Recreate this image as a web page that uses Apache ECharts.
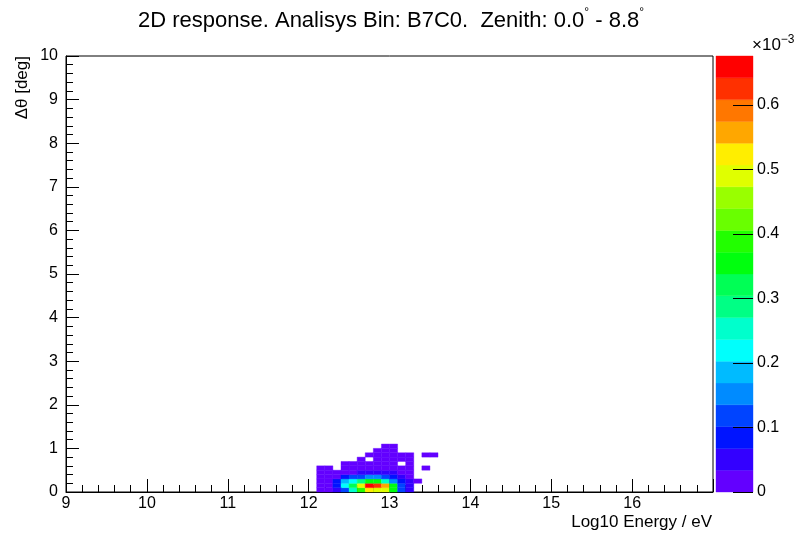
<!DOCTYPE html>
<html>
<head>
<meta charset="utf-8">
<script src="https://cdn.jsdelivr.net/npm/echarts@6/dist/echarts.min.js"></script>
<style>
html,body{margin:0;padding:0;background:#fff;}
#chart{width:798px;height:537px;}
</style>
</head>
<body>
<div id="chart"></div>
<script>
// Bin lower edges (Log10 Energy / eV, Δθ [deg]); bin size 0.1 x 0.1
const xEdges = [12.1, 12.2, 12.3, 12.4, 12.5, 12.6, 12.7, 12.8, 12.9, 13.0, 13.1, 13.2, 13.3, 13.4, 13.5];
const yEdges = [0.0, 0.1, 0.2, 0.3, 0.4, 0.5, 0.6, 0.7, 0.8, 0.9, 1.0];
const binW = 0.1;
const binH = 0.1;

// Cell contents (units of 1e-3), one array per Δθ row, columns follow xEdges
const row00 = [0.02, 0.02, 0.05, 0.12, 0.25, 0.39, 0.52, 0.49, 0.48, 0.36, 0.12, 0.05, 0, 0, 0];
const row01 = [0.02, 0.03, 0.09, 0.22, 0.32, 0.49, 0.67, 0.63, 0.56, 0.35, 0.12, 0.05, 0, 0, 0];
const row02 = [0.02, 0.02, 0.08, 0.19, 0.22, 0.29, 0.36, 0.35, 0.25, 0.15, 0.08, 0.05, 0.01, 0, 0];
const row03 = [0.01, 0.02, 0.03, 0.09, 0.12, 0.13, 0.15, 0.16, 0.12, 0.08, 0.05, 0.02, 0, 0, 0];
const row04 = [0.01, 0.02, 0.01, 0.02, 0.03, 0.04, 0.05, 0.06, 0.05, 0.04, 0.02, 0.01, 0, 0, 0];
const row05 = [0.01, 0.01, 0, 0.01, 0.02, 0.02, 0.02, 0.03, 0.02, 0.02, 0.01, 0.01, 0, 0.005, 0];
const row06 = [0, 0, 0, 0.01, 0.01, 0.01, 0.02, 0.02, 0.02, 0.01, 0, 0.005, 0, 0, 0];
const row07 = [0, 0, 0, 0, 0, 0.005, 0, 0.01, 0.01, 0.01, 0.005, 0.005, 0, 0, 0];
const row08 = [0, 0, 0, 0, 0, 0, 0.005, 0.01, 0.01, 0.01, 0.005, 0.005, 0, 0.005, 0.005];
const row09 = [0, 0, 0, 0, 0, 0, 0, 0.005, 0.01, 0.005, 0, 0, 0, 0, 0];
const row10 = [0, 0, 0, 0, 0, 0, 0, 0, 0.005, 0.005, 0, 0, 0, 0, 0];
const rows = [row00, row01, row02, row03, row04, row05, row06, row07, row08, row09, row10];

// Axis ticks
const xTickLabels = [9, 10, 11, 12, 13, 14, 15, 16];
const yTickLabels = [0, 1, 2, 3, 4, 5, 6, 7, 8, 9, 10];
const zTickLabels = [0, 0.1, 0.2, 0.3, 0.4, 0.5, 0.6];
const zMax = 0.676;

// ROOT "pretty" palette, 20 contour levels
const palette = ['#6300FF', '#3300FF', '#0014FF', '#0044FF', '#008BFF', '#00BBFF', '#00FFFC', '#00FFCC', '#00FF85', '#00FF55',
                 '#00FF0E', '#22FF00', '#69FF00', '#99FF00', '#E0FF00', '#FFEE00', '#FFA700', '#FF7700', '#FF3000', '#FF0000'];

const cells = [];
rows.forEach((r, j) => r.forEach((v, i) => { if (v > 0) cells.push([xEdges[i], yEdges[j], v]); }));

const nLev = palette.length;
const pieces = palette.map((c, i) => ({ gte: i * zMax / nLev, lt: (i + 1) * zMax / nLev, color: c }));
pieces[nLev - 1].lt = 1e9;
const bands = palette.map((c, i) => [0, i * zMax / nLev, (i + 1) * zMax / nLev, i]);

const FONT = 'Liberation Sans';
const chart = echarts.init(document.getElementById('chart'), null, { renderer: 'canvas' });

function renderCell(params, api) {
  const x = api.value(0), y = api.value(1);
  const p0 = api.coord([x, y]);
  const p1 = api.coord([x + binW, y + binH]);
  const c = api.visual('color');
  return { type: 'rect', shape: { x: p0[0], y: p1[1], width: p1[0] - p0[0], height: p0[1] - p1[1] },
           style: { fill: c, stroke: c, lineWidth: 0.4 } };
}
function renderBand(params, api) {
  const p0 = api.coord([0, api.value(1)]);
  const p1 = api.coord([1, api.value(2)]);
  const c = palette[api.value(3)];
  return { type: 'rect', shape: { x: p0[0], y: p1[1], width: p1[0] - p0[0], height: p0[1] - p1[1] },
           style: { fill: c, stroke: c, lineWidth: 0.4 } };
}

const axisCommon = {
  axisLine: { show: true, onZero: false, lineStyle: { color: '#000', width: 1 } },
  axisTick: { show: true, inside: true, length: 13, lineStyle: { color: '#000' } },
  minorTick: { show: true, splitNumber: 5, length: 7, lineStyle: { color: '#000' } },
  splitLine: { show: false },
  axisLabel: { color: '#000', fontFamily: FONT, fontSize: 16 }
};

chart.setOption({
  backgroundColor: '#fff',
  animation: false,
  title: {
    text: '{n|2D response. Analisys Bin: B7C0.  Zenith: 0.0}{s|°}{n| - 8.8}{s|°}',
    left: 133, top: 2,
    textStyle: {
      fontWeight: 'normal',
      rich: {
        n: { fontFamily: FONT, fontSize: 22, fontWeight: 'normal', color: '#000', lineHeight: 28 },
        s: { fontFamily: FONT, fontSize: 12, fontWeight: 'normal', color: '#000', verticalAlign: 'top', lineHeight: 28 }
      }
    }
  },
  grid: [
    { left: 66, top: 56, width: 647, height: 436, show: true, borderColor: '#000', borderWidth: 1, backgroundColor: 'transparent' },
    { left: 716, top: 56, width: 37, height: 436, show: false }
  ],
  xAxis: [
    Object.assign({}, axisCommon, { type: 'value', gridIndex: 0, min: 9, max: 17, interval: 1,
      axisLabel: Object.assign({}, axisCommon.axisLabel, { margin: 4, customValues: xTickLabels }) }),
    { type: 'value', gridIndex: 1, min: 0, max: 1, show: false }
  ],
  yAxis: [
    Object.assign({}, axisCommon, { type: 'value', gridIndex: 0, min: 0, max: 10, interval: 1,
      axisLabel: Object.assign({}, axisCommon.axisLabel, { margin: 8, customValues: yTickLabels }) }),
    { type: 'value', gridIndex: 1, min: 0, max: zMax, position: 'right', z: 10,
      axisLine: { show: false, onZero: false },
      axisTick: { show: true, inside: true, length: 20, lineStyle: { color: '#000' }, customValues: zTickLabels },
      minorTick: { show: false },
      splitLine: { show: false },
      axisLabel: { color: '#000', fontFamily: FONT, fontSize: 16, margin: 4, customValues: zTickLabels } }
  ],
  visualMap: {
    type: 'piecewise', show: false, dimension: 2, seriesIndex: 0, pieces: pieces
  },
  graphic: [
    { type: 'text', x: 712, y: 514, style: { text: 'Log10 Energy / eV', fontFamily: FONT, fontSize: 17, fill: '#000', textAlign: 'right', textVerticalAlign: 'top' } },
    { type: 'text', x: 22, y: 56, rotation: Math.PI / 2, style: { text: 'Δθ [deg]', fontFamily: FONT, fontSize: 17, fill: '#000', textAlign: 'right', textVerticalAlign: 'middle' } },
    { type: 'text', x: 752, y: 34, style: { text: '{a|×10}{b|−3}', fontFamily: FONT, fill: '#000',
        rich: { a: { fontFamily: FONT, fontSize: 17, fill: '#000', verticalAlign: 'bottom', lineHeight: 20 },
                b: { fontFamily: FONT, fontSize: 12, fill: '#000', verticalAlign: 'top', lineHeight: 20 } } } }
  ],
  series: [
    { type: 'custom', xAxisIndex: 0, yAxisIndex: 0, renderItem: renderCell, data: cells, encode: { x: 0, y: 1 } },
    { type: 'custom', xAxisIndex: 1, yAxisIndex: 1, renderItem: renderBand, data: bands, encode: { x: 0, y: [1, 2] }, silent: true, z: 1 }
  ]
});
</script>
</body>
</html>
